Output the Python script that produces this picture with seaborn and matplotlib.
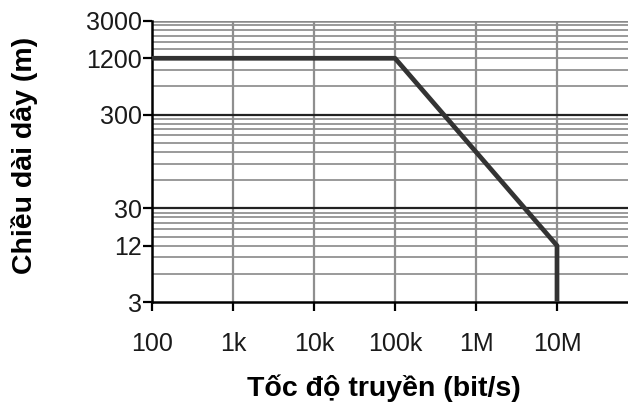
import numpy as np
import pandas as pd
import matplotlib
matplotlib.use("Agg")
import matplotlib.pyplot as plt
import matplotlib.ticker as mticker
import seaborn as sns

# Data
rate_bps = [100, 100_000, 10_000_000, 10_000_000]
length_m = [1200, 1200, 12, 3]

x_ticks = [100, 1e3, 1e4, 1e5, 1e6, 1e7]
x_ticklabels = ["100", "1k", "10k", "100k", "1M", "10M"]
y_ticks = [3, 12, 30, 300, 1200, 3000]
y_ticklabels = ["3", "12", "30", "300", "1200", "3000"]
dark_y_lines = [30, 300]

x_label = "Tốc độ truyền (bit/s)"
y_label = "Chiều dài dây (m)"

sns.set_theme(style="white")
plt.rcParams["font.family"] = ["Liberation Sans", "DejaVu Sans"]

W, H = 628, 404
fig = plt.figure(figsize=(W / 100, H / 100), dpi=100)
ax_l, ax_r, ax_b, ax_t = 152, 634, 302, 21
ax = fig.add_axes([ax_l / W, 1 - ax_b / H, (ax_r - ax_l) / W, (ax_b - ax_t) / H])

df = pd.DataFrame({"rate": rate_bps, "length": length_m})

ax.set_xscale("log")
ax.set_yscale("log")

# minor horizontal grid at 3*k*10^n
minor_y = [3 * k * 10**n for n in range(0, 3) for k in range(2, 10)]
ax.yaxis.set_minor_locator(mticker.FixedLocator(minor_y))
ax.yaxis.set_minor_formatter(mticker.NullFormatter())
ax.xaxis.set_minor_locator(mticker.NullLocator())

ax.grid(False)
for v in minor_y:
    ax.axhline(v, color="#9a9a9a", lw=1.4, zorder=1)
for v in x_ticks[1:]:
    ax.axvline(v, color="#8f8f8f", lw=1.6, zorder=1)
for v in dark_y_lines:
    ax.axhline(v, color="#222222", lw=1.6, zorder=1.5)
ax.axhline(y_ticks[-1], color="#8a8a8a", lw=1.8, zorder=1)

sns.lineplot(data=df, x="rate", y="length", sort=False, estimator=None,
             color="#333333", lw=3.4, ax=ax, zorder=3)

ax.set_xlim(100, 10**(2 + (ax_r - ax_l) / 81.0))
ax.set_ylim(3, 3000)

ax.set_xticks(x_ticks)
ax.set_xticklabels(x_ticklabels)
ax.set_yticks(y_ticks)
ax.set_yticklabels(y_ticklabels)
ax.tick_params(axis="both", which="major", length=6.5, width=1.6, color="black",
               labelsize=18, labelcolor="#1a1a1a", direction="out",
               bottom=True, left=True)
ax.tick_params(axis="x", pad=15)
ax.tick_params(axis="y", pad=0.5)
ax.tick_params(which="minor", length=0)

for s in ["top", "right"]:
    ax.spines[s].set_visible(False)
for s in ["left", "bottom"]:
    ax.spines[s].set_color("black")
    ax.spines[s].set_linewidth(1.8)

aw = ax_r - ax_l
ah = ax_b - ax_t
ax.set_xlabel(x_label, fontsize=20.5, fontweight="bold", color="black")
ax.set_ylabel(y_label, fontsize=20.5, fontweight="bold", color="black")
ax.xaxis.label.set_va("center")
ax.yaxis.label.set_va("center")
ax.yaxis.label.set_ha("center")
ax.xaxis.set_label_coords((384 - ax_l) / aw, -(388 - ax_b) / ah)
ax.yaxis.set_label_coords(-(ax_l - 25) / aw, (ax_b - 155) / ah)

fig.savefig("out.png", dpi=100)
